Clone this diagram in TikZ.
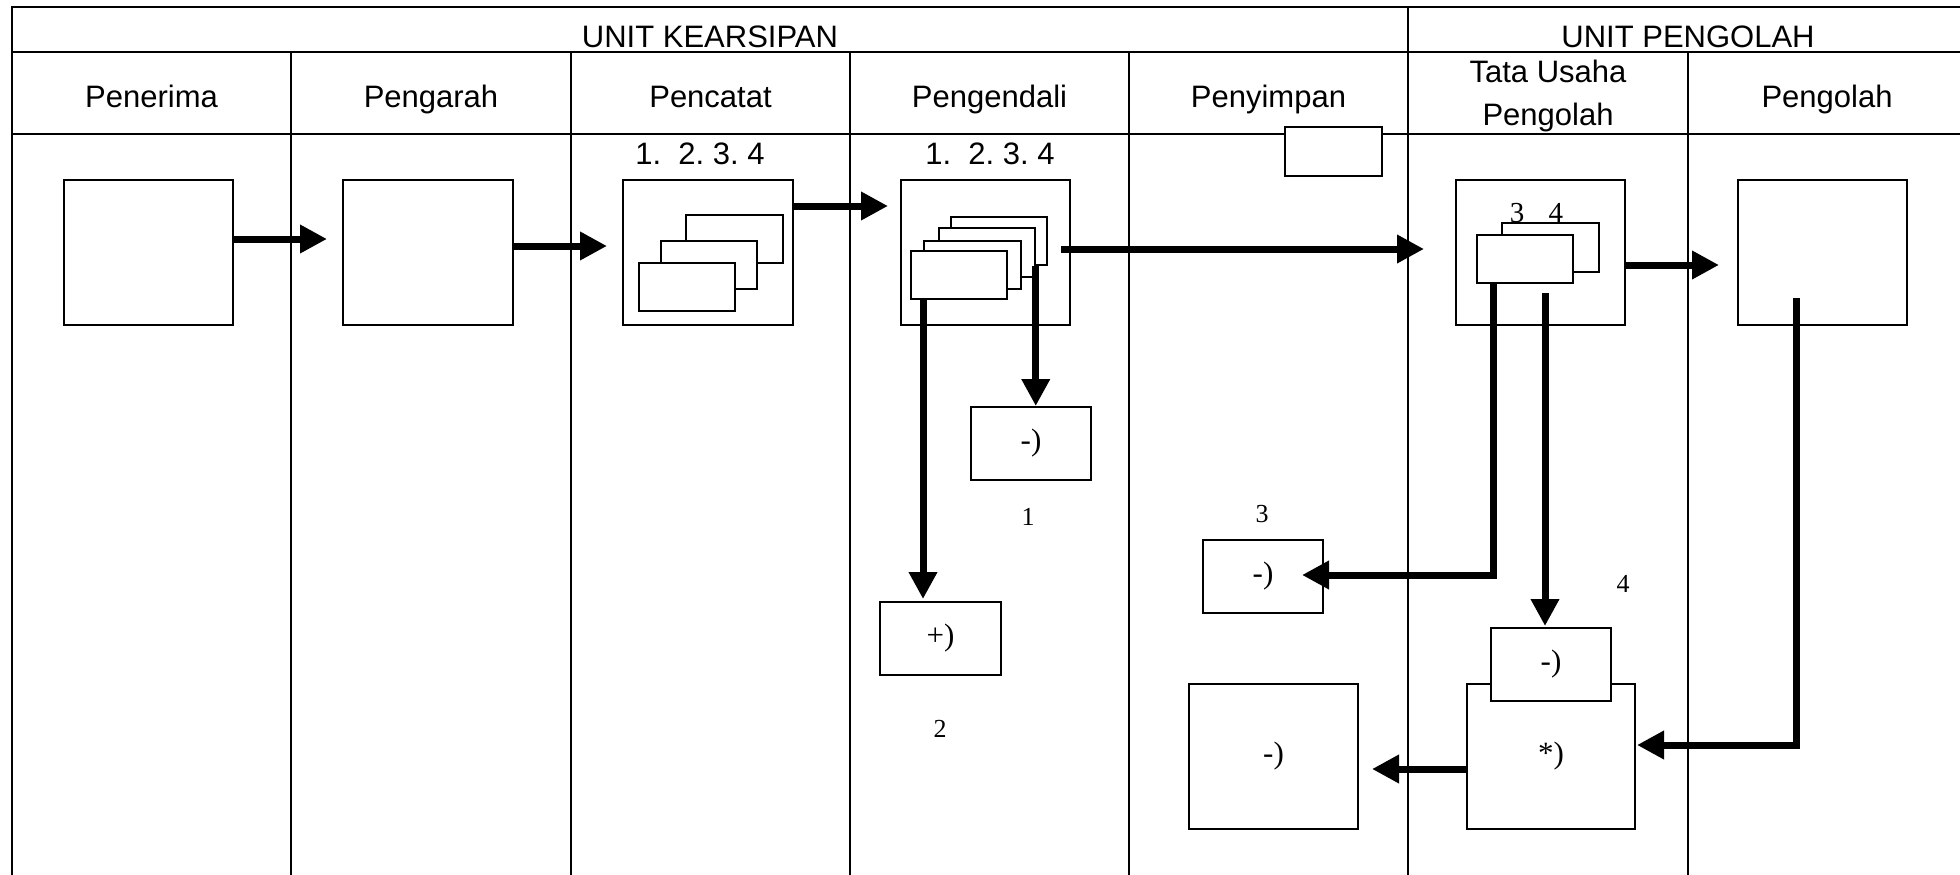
\documentclass[tikz,border=0pt]{standalone}
\usepackage{fontspec}
\setmainfont{Liberation Serif}
\newfontfamily\arialfont{Liberation Sans}
\usetikzlibrary{arrows.meta}
\begin{document}
\begin{tikzpicture}[x=1pt,y=-1pt,
  tbl/.style={line width=1.8pt},
  box/.style={draw, line width=2pt, fill=white, inner sep=0pt},
  card/.style={draw, line width=1.5pt, fill=white, inner sep=0pt},
  flow/.style={line width=7pt, -{Triangle[length=27pt,width=27pt]}},
  hdr/.style={font=\arialfont\fontsize{31}{36}\selectfont, inner sep=0pt, anchor=base},
  lbl/.style={font=\fontsize{31}{36}\selectfont},
  num/.style={font=\fontsize{26}{30}\selectfont, inner sep=0pt, anchor=base},
]
\useasboundingbox[fill=white] (0,0) rectangle (1960,875);

% ---- table ----
\draw[tbl] (12,875) -- (12,7) -- (1960,7);
\draw[tbl] (12,52) -- (1960,52);
\draw[tbl] (12,134) -- (1960,134);
\draw[tbl] (1408,7) -- (1408,875);
\foreach \cx in {291,571,850,1129,1688} \draw[tbl] (\cx,52) -- (\cx,875);

\node[hdr] (hK) at (710,47.5) {UNIT KEARSIPAN};
\node[hdr] (hP) at (1688,47.5) {UNIT PENGOLAH};
\node[hdr] (c1) at (151.5,107) {Penerima};
\node[hdr] (c2) at (431,107) {Pengarah};
\node[hdr] (c3) at (710.5,107) {Pencatat};
\node[hdr] (c4) at (989.5,107) {Pengendali};
\node[hdr] (c5) at (1268.5,107) {Penyimpan};
\node[hdr] (c6a) at (1548,82) {Tata Usaha};
\node[hdr] (c6b) at (1548,125.5) {Pengolah};
\node[hdr] (c7) at (1827,107) {Pengolah};

% ---- main boxes ----
\node[box, minimum width=169pt, minimum height=145pt] (pen1) at (148.5,252.5) {};
\node[box, minimum width=170pt, minimum height=145pt] (pen2) at (428,252.5) {};
\node[box, minimum width=170pt, minimum height=145pt] (pen3) at (708,252.5) {};
\node[box, minimum width=169pt, minimum height=145pt] (pen4) at (985.5,252.5) {};
\node[box, minimum width=169pt, minimum height=145pt] (tu) at (1540.5,252.5) {};
\node[box, minimum width=169pt, minimum height=145pt] (olah) at (1822.5,252.5) {};
\node[box, minimum width=97pt, minimum height=49pt] (b7) at (1333.5,151.5) {};

% numbers above boxes
\node[hdr] (n3) at (700,164) {1.\ \ 2.\ 3.\ 4};
\node[hdr] (n4) at (990,164) {1.\ \ 2.\ 3.\ 4};

% ---- cards ----
\node[card, minimum width=97pt, minimum height=48pt] (ca1) at (734.5,239) {};
\node[card, minimum width=96pt, minimum height=48pt] (ca2) at (709,265) {};
\node[card, minimum width=96pt, minimum height=48pt] (ca3) at (687,287) {};

\node[card, minimum width=96pt, minimum height=48pt] (cb1) at (999,241) {};
\node[card, minimum width=96pt, minimum height=49pt] (cb2) at (987,252.5) {};
\node[card, minimum width=97pt, minimum height=48pt] (cb3) at (972.5,265) {};
\node[card, minimum width=96pt, minimum height=48pt] (cb4) at (959,275) {};

\node[card, minimum width=97pt, minimum height=49pt] (cc1) at (1550.5,247.5) {};
\node[card, minimum width=96pt, minimum height=48pt] (cc2) at (1525,259) {};
\node[font=\fontsize{29}{32}\selectfont, inner sep=0pt, anchor=base] (n34) at (1536.5,222) {3\hspace{24.5pt}4};

% ---- lower boxes ----
\node[box, lbl, minimum width=120pt, minimum height=73pt] (b1) at (1031,443.5) {-)};
\node[box, lbl, minimum width=121pt, minimum height=73pt] (b2) at (940.5,638.5) {+)};
\node[box, lbl, minimum width=120pt, minimum height=73pt] (b3) at (1263,576.5) {-)};
\node[box, lbl, minimum width=168pt, minimum height=145pt] (b5) at (1551,756.5) {*)};
\node[box, lbl, minimum width=120pt, minimum height=73pt] (b4) at (1551,664.5) {-)};
\node[box, lbl, minimum width=169pt, minimum height=145pt] (b6) at (1273.5,756.5) {-)};

\node[num] (l1) at (1028,525) {1};
\node[num] (l2) at (940,737) {2};
\node[num] (l3) at (1262,522) {3};
\node[num] (l4) at (1623,592) {4};

% ---- connector start points ----
\coordinate (sL) at ([xshift=-36pt]cb4.south);
\coordinate (sR) at (cb2.east |- cb1.south);
\coordinate (sT1) at ([xshift=-32pt]cc2.south);
\coordinate (sT2) at ([xshift=20pt,yshift=-9pt]cc2.south);
\coordinate (sO) at ([xshift=-26.5pt,yshift=28pt]olah.south);

% ---- connectors ----
\draw[flow] ([yshift=13.5pt]pen1.east) -- ([yshift=13.5pt,xshift=-15pt]pen2.west);
\draw[flow] ([yshift=6.5pt]pen2.east) -- ([yshift=6.5pt,xshift=-15pt]pen3.west);
\draw[flow] ([yshift=46.5pt]pen3.east) -- ([yshift=46.5pt,xshift=-12pt]pen4.west);
\draw[flow] ([yshift=3.5pt,xshift=-10pt]pen4.east) -- ([yshift=3.5pt,xshift=-31pt]tu.west);
\draw[flow] ([yshift=-12.5pt]tu.east) -- ([yshift=-12.5pt,xshift=-18pt]olah.west);

\draw[flow] (sL) -- ([yshift=2pt]sL |- b2.north);
\draw[flow] (sR) -- (sR |- b1.north);
\draw[flow] (sT1) |- ([yshift=1.5pt,xshift=-22pt]b3.east);
\draw[flow] (sT2) -- ([yshift=1pt]sT2 |- b4.north);
\draw[flow] (sO) |- ([yshift=11.5pt,xshift=1pt]b5.east);
\draw[flow] ([yshift=-12.5pt]b5.west) -- ([yshift=-12.5pt,xshift=13pt]b6.east);
\end{tikzpicture}
\end{document}
